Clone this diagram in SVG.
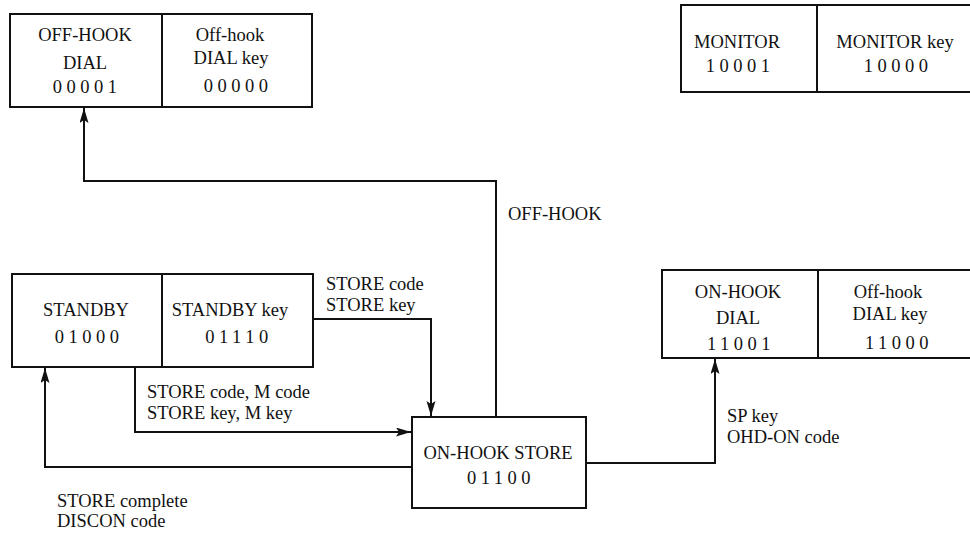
<svg xmlns="http://www.w3.org/2000/svg" width="970" height="533" viewBox="0 0 970 533">
<style>
text{font-family:"Liberation Serif","Times New Roman",serif;font-size:18.5px;fill:#111}
.c{text-anchor:middle}
.d{letter-spacing:4.5px}
.box{fill:#fff;stroke:#111;stroke-width:2}
.div{stroke:#111;stroke-width:2}
.conn{fill:none;stroke:#111;stroke-width:2}
</style>
<defs>
<marker id="arr" markerUnits="userSpaceOnUse" markerWidth="16" markerHeight="10" refX="15" refY="4.5" orient="auto">
<path d="M0,0 L15,4.5 L0,9 L3,4.5 Z" fill="#111"/>
</marker>
</defs>
<g id="connectors">
<path class="conn" d="M496,417 V181 H84 V108" marker-end="url(#arr)"/>
<path class="conn" d="M313,319 H431 V416" marker-end="url(#arr)"/>
<path class="conn" d="M135,367 V432 H411" marker-end="url(#arr)"/>
<path class="conn" d="M412,467 H45 V368" marker-end="url(#arr)"/>
<path class="conn" d="M586,463 H715 V359" marker-end="url(#arr)"/>
<text x="508" y="220">OFF-HOOK</text>
<text x="326" y="290">STORE code</text>
<text x="326" y="311">STORE key</text>
<text x="147" y="398">STORE code, M code</text>
<text x="147" y="419">STORE key, M key</text>
<text x="57" y="507">STORE complete</text>
<text x="57" y="527">DISCON code</text>
<text x="727" y="422">SP key</text>
<text x="727" y="443">OHD-ON code</text>
</g>
<g id="offhook-dial">
<rect class="box" x="10" y="14" width="302" height="93"/>
<line class="div" x1="162" y1="14" x2="162" y2="107"/>
<text class="c" x="85" y="41">OFF-HOOK</text>
<text class="c" x="85" y="69">DIAL</text>
<text class="c d" x="87" y="93">00001</text>
<text class="c" x="230" y="41">Off-hook</text>
<text class="c" x="231" y="64">DIAL key</text>
<text class="c d" x="238" y="92">00000</text>
</g>
<g id="monitor">
<rect class="box" x="681" y="5" width="300" height="87"/>
<line class="div" x1="817" y1="5" x2="817" y2="92"/>
<text class="c" x="737" y="48">MONITOR</text>
<text class="c d" x="740" y="72">10001</text>
<text class="c" x="895" y="48">MONITOR key</text>
<text class="c d" x="898" y="72">10000</text>
</g>
<g id="standby">
<rect class="box" x="12" y="274" width="301" height="93"/>
<line class="div" x1="162" y1="274" x2="162" y2="367"/>
<text class="c" x="86" y="316">STANDBY</text>
<text class="c d" x="89" y="343">01000</text>
<text class="c" x="230" y="316">STANDBY key</text>
<text class="c d" x="239" y="343">01110</text>
</g>
<g id="onhook-store">
<rect class="box" x="412" y="417" width="174" height="91"/>
<text class="c" x="498" y="459">ON-HOOK STORE</text>
<text class="c d" x="501" y="484">01100</text>
</g>
<g id="onhook-dial">
<rect class="box" x="662" y="270" width="320" height="88"/>
<line class="div" x1="818" y1="270" x2="818" y2="358"/>
<text class="c" x="738" y="298">ON-HOOK</text>
<text class="c" x="738" y="324">DIAL</text>
<text class="c d" x="741" y="350">11001</text>
<text class="c" x="888" y="298">Off-hook</text>
<text class="c" x="890" y="320">DIAL key</text>
<text class="c d" x="899" y="349">11000</text>
</g>
</svg>
